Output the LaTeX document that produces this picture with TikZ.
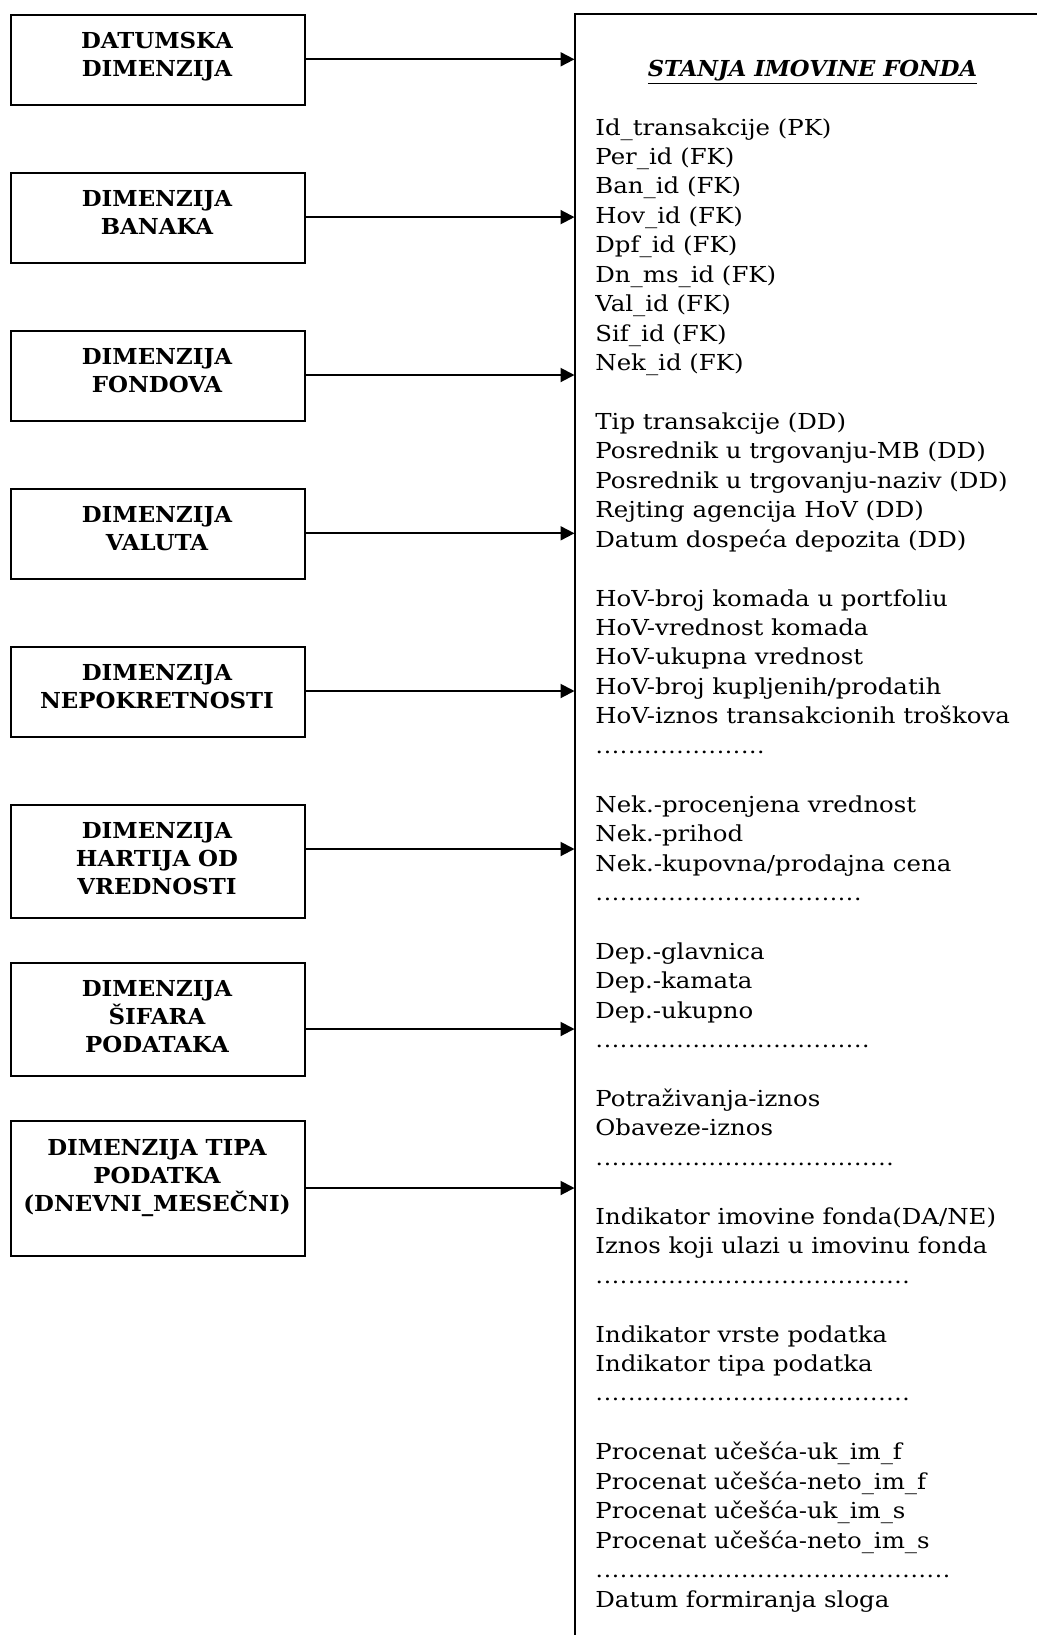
\documentclass[tikz,border=0pt]{standalone}
\usepackage{fontspec}
\setmainfont[FakeStretch=1.11]{DejaVu Serif}
\newfontfamily\dimfont[FakeStretch=1.04]{DejaVu Serif}
\newfontfamily\titlefont[FakeStretch=1.03]{DejaVu Serif}
\usetikzlibrary{arrows.meta}

\newcommand{\dotrow}[1]{\hbox to \dimexpr #1\dimexpr 4.035pt\relax + 0.2pt\relax{\leaders\hbox to 4.035pt{\hss\fontsize{10.5}{12}\selectfont.\hss}\hfill}}

\tikzset{
  dimbox/.style={draw, line width=1pt, inner sep=0pt, anchor=north west, minimum width=147pt, minimum height=45pt},
  dimtext/.style={anchor=base, inner sep=0pt, font=\dimfont\fontsize{11}{14}\selectfont\bfseries},
  conn/.style={line width=1pt, -{Triangle[length=7pt,width=7pt]}},
  fieldtext/.style={anchor=base west, inner sep=0pt, font=\fontsize{11}{14.72}\selectfont},
  titletext/.style={anchor=base, inner sep=0pt, font=\titlefont\fontsize{11}{14}\selectfont\bfseries\itshape},
}

\newcommand{\ctr}[1]{\vtop{\baselineskip=14pt\lineskiplimit=-20pt\halign{\hfil##\hfil\cr#1\crcr}}}

\begin{document}
\begin{tikzpicture}[x=0.5pt,y=-0.5pt]
\useasboundingbox (0,0) rectangle (1037,1635);

% fact table frame (cut by the page edges)
\coordinate (fl) at (574.5,0);
\draw[line width=1pt] (574.5,1635) -- (574.5,13.5) -- (1037,13.5);

% dimension boxes
\node[dimbox] (d1) at (10,13.5) {};
\node[dimbox] (d2) at (10,171.6) {};
\node[dimbox] (d3) at (10,329.7) {};
\node[dimbox] (d4) at (10,487.8) {};
\node[dimbox] (d5) at (10,645.9) {};
\node[dimbox, minimum height=56.5pt] (d6) at (10,804) {};
\node[dimbox, minimum height=56.5pt] (d7) at (10,962) {};
\node[dimbox, minimum height=67.5pt] (d8) at (10,1120) {};

\node[dimtext] (t1) at (157,48) {\ctr{DATUMSKA\cr DIMENZIJA}};
\node[dimtext] (t2) at (157,206.1) {\ctr{DIMENZIJA\cr BANAKA}};
\node[dimtext] (t3) at (157,364.2) {\ctr{DIMENZIJA\cr FONDOVA}};
\node[dimtext] (t4) at (157,522.3) {\ctr{DIMENZIJA\cr VALUTA}};
\node[dimtext] (t5) at (157,680.4) {\ctr{DIMENZIJA\cr NEPOKRETNOSTI}};
\node[dimtext] (t6) at (157,838.5) {\ctr{DIMENZIJA\cr HARTIJA OD\cr VREDNOSTI}};
\node[dimtext] (t7) at (157,996.5) {\ctr{DIMENZIJA\cr ŠIFARA\cr PODATAKA}};
\node[dimtext] (t8) at (157,1155.5) {\ctr{DIMENZIJA TIPA\cr PODATKA\cr (DNEVNI\_MESEČNI)}};

% connectors
\path (d1.north east) ++(0,45.8) coordinate (s1);
\path (d2.north east) ++(0,45.5) coordinate (s2);
\path (d3.north east) ++(0,45.3) coordinate (s3);
\path (d4.north east) ++(0,45.5) coordinate (s4);
\path (d5.north east) ++(0,45.1) coordinate (s5);
\path (d6.north east) ++(0,45) coordinate (s6);
\path (d7.north east) ++(0,67) coordinate (s7);
\path (d8.north east) ++(0,68) coordinate (s8);
\foreach \i in {1,...,8} {\draw[conn] (s\i) -- (fl |- s\i);}

% fact table contents
\node[titletext] (title) at (812.5,76) {\underline{STANJA IMOVINE FONDA}};
\node[fieldtext] (fields) at (595,135) {\vtop{\baselineskip=14.72pt\lineskiplimit=-30pt\lineskip=0pt
\hbox{Id\_transakcije (PK)}
\hbox{Per\_id (FK)}
\hbox{Ban\_id (FK)}
\hbox{Hov\_id (FK)}
\hbox{Dpf\_id (FK)}
\hbox{Dn\_ms\_id (FK)}
\hbox{Val\_id (FK)}
\hbox{Sif\_id (FK)}
\hbox{Nek\_id (FK)}
\hbox{}
\hbox{Tip transakcije (DD)}
\hbox{Posrednik u trgovanju-MB (DD)}
\hbox{Posrednik u trgovanju-naziv (DD)}
\hbox{Rejting agencija HoV (DD)}
\hbox{Datum dospeća depozita (DD)}
\hbox{}
\hbox{HoV-broj komada u portfoliu}
\hbox{HoV-vrednost komada}
\hbox{HoV-ukupna vrednost}
\hbox{HoV-broj kupljenih/prodatih}
\hbox{HoV-iznos transakcionih troškova}
\dotrow{21}
\hbox{}
\hbox{Nek.-procenjena vrednost}
\hbox{Nek.-prihod}
\hbox{Nek.-kupovna/prodajna cena}
\dotrow{33}
\hbox{}
\hbox{Dep.-glavnica}
\hbox{Dep.-kamata}
\hbox{Dep.-ukupno}
\dotrow{34}
\hbox{}
\hbox{Potraživanja-iznos}
\hbox{Obaveze-iznos}
\dotrow{37}
\hbox{}
\hbox{Indikator imovine fonda(DA/NE)}
\hbox{Iznos koji ulazi u imovinu fonda}
\dotrow{39}
\hbox{}
\hbox{Indikator vrste podatka}
\hbox{Indikator tipa podatka}
\dotrow{39}
\hbox{}
\hbox{Procenat učešća-uk\_im\_f}
\hbox{Procenat učešća-neto\_im\_f}
\hbox{Procenat učešća-uk\_im\_s}
\hbox{Procenat učešća-neto\_im\_s}
\dotrow{44}
\hbox{Datum formiranja sloga}
}};
\end{tikzpicture}
\end{document}
